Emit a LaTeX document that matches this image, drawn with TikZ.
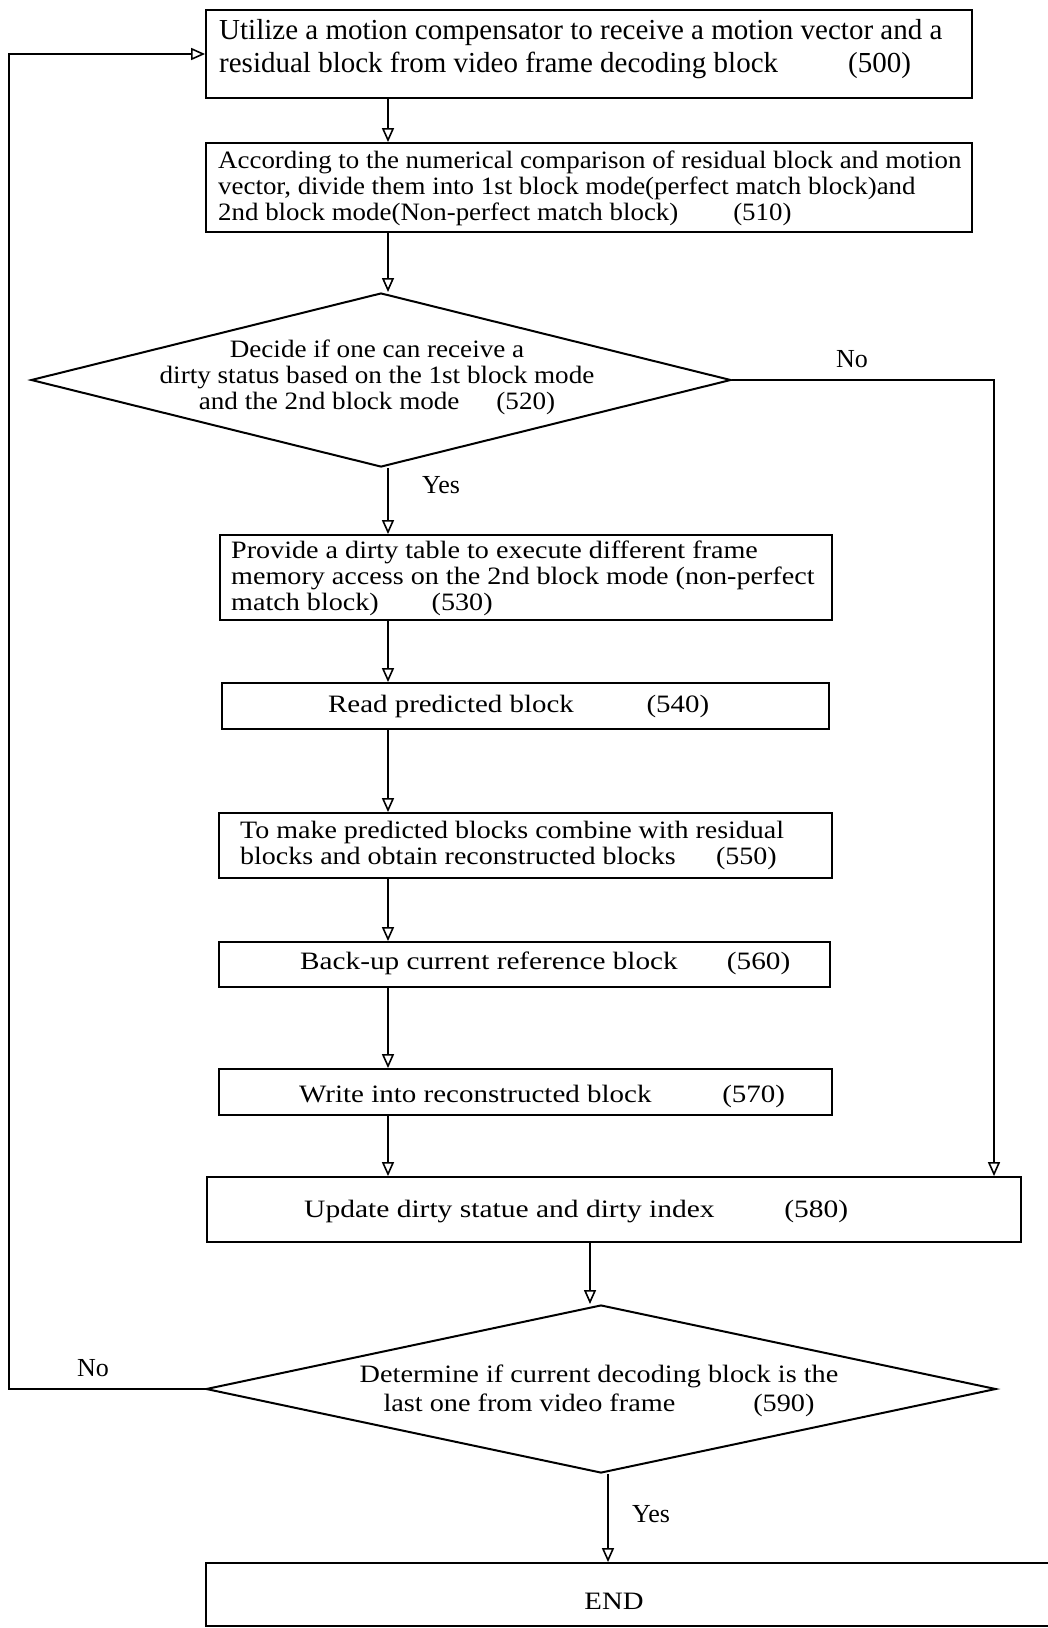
\documentclass[tikz,border=0pt]{standalone}
\usepackage{fontspec}
\setmainfont{Liberation Serif}
\usepackage{graphicx}
\usetikzlibrary{arrows.meta,shapes.geometric,calc}

% horizontally widened line of text
\newcommand{\hx}[2]{\scalebox{#1}[1]{#2}}

\begin{document}
\begin{tikzpicture}[x=1pt,y=-1pt,
  stepbox/.style={draw, line width=1.8pt, inner sep=0pt, rectangle},
  decide/.style={draw, line width=2pt, diamond, inner sep=0pt},
  txt/.style={inner sep=0pt, align=left, font=\fontsize{25}{26}\selectfont},
  lbl/.style={inner sep=0pt, font=\fontsize{26}{28}\selectfont},
  flow/.style={line width=2.2pt, -{Triangle[open,length=14pt,width=12pt,line width=1.6pt]}}]

\useasboundingbox (0,0) rectangle (1047,1628);
\fill[white] (0,0) rectangle (1047,1628);

% process boxes and decisions
\node[stepbox, minimum width=766pt, minimum height=88pt] (b500) at (589,54) {};
\node[stepbox, minimum width=766pt, minimum height=89pt] (b510) at (589,187.5) {};
\node[decide, minimum width=700pt, minimum height=174pt] (d520) at (381,380) {};
\node[stepbox, minimum width=612pt, minimum height=85pt] (b530) at (526,577.5) {};
\node[stepbox, minimum width=607pt, minimum height=46pt] (b540) at (525.5,706) {};
\node[stepbox, minimum width=613pt, minimum height=65pt] (b550) at (525.5,845.5) {};
\node[stepbox, minimum width=611pt, minimum height=45pt] (b560) at (524.5,964.5) {};
\node[stepbox, minimum width=613pt, minimum height=46pt] (b570) at (525.5,1092) {};
\node[stepbox, minimum width=814pt, minimum height=65pt] (b580) at (614,1209.5) {};
\node[decide, minimum width=790pt, minimum height=168pt] (d590) at (601,1389) {};
\node[stepbox, minimum width=854pt, minimum height=63pt] (bend) at (633,1594.5) {};

% texts
\node[inner sep=0pt, align=left, font=\fontsize{29}{33}\selectfont, anchor=west] (t500) at (219,49)
  {Utilize a motion compensator to receive a motion vector and a\\
   residual block from video frame decoding block\hspace{70pt}(500)};
\node[txt, anchor=west] (t510) at (218,188)
  {\hx{1.076}{According to the numerical comparison of residual block and motion}\\
   \hx{1.076}{vector, divide them into 1st block mode(perfect match block)and}\\
   \hx{1.076}{2nd block mode(Non-perfect match block)\hspace{51pt}(510)}};
\node[txt, align=center] (t520) at (377,377)
  {\hx{1.085}{Decide if one can receive a}\\
   \hx{1.085}{dirty status based on the 1st block mode}\\
   \hx{1.085}{and the 2nd block mode\hspace{34pt}(520)}};
\node[txt, anchor=west] (t530) at (231,578)
  {\hx{1.125}{Provide a dirty table to execute different frame}\\
   \hx{1.125}{memory access on the 2nd block mode (non-perfect}\\
   \hx{1.125}{match block)\hspace{47pt}(530)}};
\node[txt, anchor=west] (t540) at (328,706)
  {\hx{1.156}{Read predicted block\hspace{63pt}(540)}};
\node[txt, anchor=west] (t550) at (240,845)
  {\hx{1.12}{To make predicted blocks combine with residual}\\
   \hx{1.12}{blocks and obtain reconstructed blocks\hspace{36pt}(550)}};
\node[txt, anchor=west] (t560) at (300,963)
  {\hx{1.17}{Back-up current reference block\hspace{42pt}(560)}};
\node[txt, anchor=west] (t570) at (299,1096)
  {\hx{1.16}{Write into reconstructed block\hspace{61pt}(570)}};
\node[txt, anchor=west] (t580) at (304,1212)
  {\hx{1.18}{Update dirty statue and dirty index\hspace{59pt}(580)}};
\node[txt, align=center, font=\fontsize{25}{29}\selectfont] (t590) at (599,1391)
  {\hx{1.13}{Determine if current decoding block is the}\\
   \hx{1.13}{last one from video frame\hspace{69pt}(590)}};
\node[txt] (tend) at (614,1601) {\hx{1.15}{END}};

% branch labels
\node[lbl, anchor=west] (yes1) at (422,485) {Yes};
\node[lbl] (no1) at (852,359) {No};
\node[lbl] (no2) at (93,1368) {No};
\node[lbl, anchor=west] (yes2) at (632,1514) {Yes};

% connector columns
\coordinate (cA) at (388,0);
\coordinate (cB) at (994,0);
\coordinate (cC) at (590,0);
\coordinate (cD) at (608,0);
\coordinate (cE) at (9,0);

% main flow
\draw[flow] (b500.south -| cA) -- (b510.north -| cA);
\draw[flow] (b510.south -| cA) -- (cA |- d520.north);
\draw[flow] (cA |- d520.south) -- (b530.north -| cA);
\draw[flow] (b530.south -| cA) -- (b540.north -| cA);
\draw[flow] (b540.south -| cA) -- (b550.north -| cA);
\draw[flow] (b550.south -| cA) -- (b560.north -| cA);
\draw[flow] (b560.south -| cA) -- (b570.north -| cA);
\draw[flow] (b570.south -| cA) -- (b580.north -| cA);
\draw[flow] (d520.east) -- (cB |- d520.east) -- (b580.north -| cB);
\draw[flow] (b580.south -| cC) -- (cC |- d590.north);
\draw[flow] (cD |- d590.south) -- (bend.north -| cD);
\draw[flow] (d590.west) -- (cE |- d590.west) -- (cE |- b500.west) -- (b500.west);
\end{tikzpicture}
\end{document}
